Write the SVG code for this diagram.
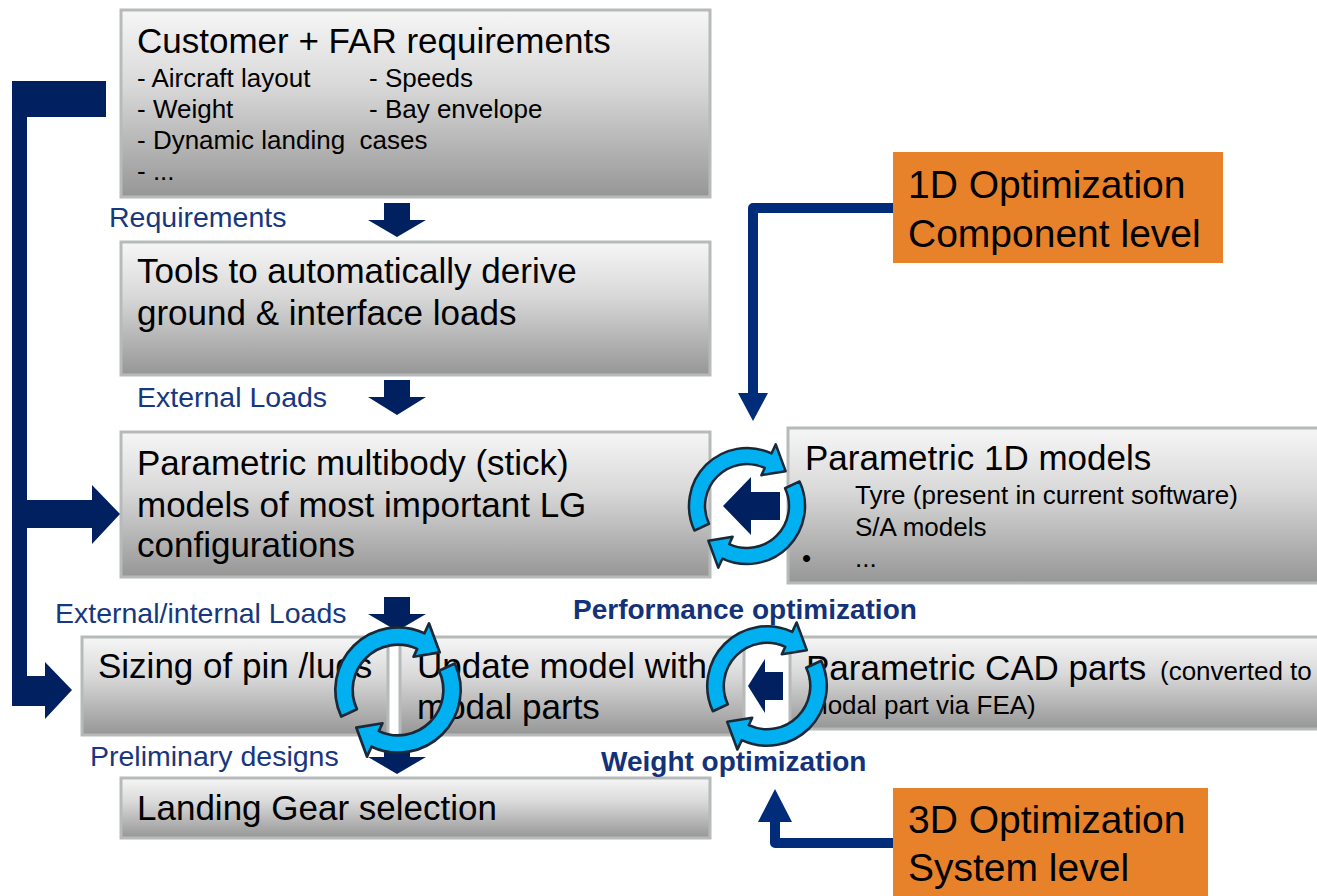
<svg xmlns="http://www.w3.org/2000/svg" xmlns:xlink="http://www.w3.org/1999/xlink" width="1317" height="896" viewBox="0 0 1317 896">
<style>
.box{fill:url(#gray);stroke:#b7baba;stroke-width:3}
.org{fill:#e8822a}
.t{font-family:"Liberation Sans",Arial,sans-serif;fill:#000;white-space:pre}
.big{font-size:35px}
.sm{font-size:26px}
.ob{font-size:39px}
.lbl{font-family:"Liberation Sans",Arial,sans-serif;font-size:28.5px;fill:#17377e}
.bld{font-family:"Liberation Sans",Arial,sans-serif;font-size:28px;font-weight:bold;fill:#13327a}
.navy{fill:#002060}
.line{fill:none;stroke:#012c7a;stroke-width:10;stroke-linejoin:round}
.head{fill:#012c7a}
.cyc{fill:#00b0f0;stroke:#1a2838;stroke-width:2.5;stroke-linejoin:round}
</style>
<defs>
<linearGradient id="gray" x1="0" y1="0" x2="0" y2="1">
<stop offset="0" stop-color="#f6f6f6"/>
<stop offset="0.4" stop-color="#d9d9d9"/>
<stop offset="1" stop-color="#969696"/>
</linearGradient>
<g id="cycle">
<path class="cyc" d="M-52.57,24.51 A58,58 0 0 1 24.51,-52.57 L28.74,-61.63 L38.64,-34.79 L14.37,-30.81 L17.75,-38.06 A42,42 0 0 0 -38.06,17.75 Z"/>
<path class="cyc" d="M52.57,-24.51 A58,58 0 0 1 -24.51,52.57 L-28.74,61.63 L-38.64,34.79 L-14.37,30.81 L-17.75,38.06 A42,42 0 0 0 38.06,-17.75 Z"/>
</g>
</defs>
<rect width="1317" height="896" fill="#fff"/>

<g id="customer">
<rect class="box" x="121" y="10" width="589" height="187"/>
<text class="t big" x="137" y="53">Customer + FAR requirements</text>
<text class="t sm" x="137" y="87">- Aircraft layout</text>
<text class="t sm" x="369" y="87">- Speeds</text>
<text class="t sm" x="137" y="118">- Weight</text>
<text class="t sm" x="369" y="118">- Bay envelope</text>
<text class="t sm" x="137" y="149">- Dynamic landing  cases</text>
<text class="t sm" x="137" y="180">- ...</text>
</g>

<g id="tools">
<rect class="box" x="121" y="242" width="589" height="133"/>
<text class="t big" x="137" y="283">Tools to automatically derive</text>
<text class="t big" x="137" y="325">ground &amp; interface loads</text>
</g>

<g id="multibody">
<rect class="box" x="121" y="432" width="589" height="145"/>
<text class="t big" x="137" y="475">Parametric multibody (stick)</text>
<text class="t big" x="137" y="517">models of most important LG</text>
<text class="t big" x="137" y="557">configurations</text>
</g>

<g id="param1d">
<rect class="box" x="788" y="428" width="545" height="155"/>
<text class="t big" x="805" y="470">Parametric 1D models</text>
<text class="t sm" x="855" y="504">Tyre (present in current software)</text>
<text class="t sm" x="855" y="536">S/A models</text>
<text class="t sm" x="802" y="567">•</text>
<text class="t sm" x="855" y="567">...</text>
</g>

<g id="sizing">
<rect class="box" x="82" y="637" width="306" height="98"/>
<text class="t big" x="98" y="678">Sizing of pin /lugs</text>
</g>

<g id="update">
<rect class="box" x="400" y="637" width="344" height="98"/>
<text class="t big" x="417" y="678">Update model with</text>
<text class="t big" x="417" y="719">modal parts</text>
</g>

<g id="cad">
<rect class="box" x="790" y="637" width="545" height="92"/>
<text class="t big" x="806" y="680">Parametric CAD parts</text>
<text class="t sm" x="1160" y="680">(converted to</text>
<text class="t sm" x="806" y="714">modal part via FEA)</text>
</g>

<g id="selection">
<rect class="box" x="121" y="778" width="589" height="60"/>
<text class="t big" x="137" y="820">Landing Gear selection</text>
</g>

<g id="opt1d">
<rect class="org" x="893" y="152" width="330" height="111"/>
<text class="t ob" x="908" y="198">1D Optimization</text>
<text class="t ob" x="908" y="247">Component level</text>
</g>

<g id="opt3d">
<rect class="org" x="893" y="788" width="315" height="108"/>
<text class="t ob" x="908" y="833">3D Optimization</text>
<text class="t ob" x="908" y="881">System level</text>
</g>

<g id="labels">
<text class="lbl" x="109" y="227">Requirements</text>
<text class="lbl" x="137" y="407">External Loads</text>
<text class="lbl" x="55" y="623">External/internal Loads</text>
<text class="lbl" x="90" y="766">Preliminary designs</text>
<text class="bld" x="573" y="619">Performance optimization</text>
<text class="bld" x="601" y="771">Weight optimization</text>
</g>

<g id="connectors">
<polygon class="navy" points="106,81 12,81 12,706 45,706 45,719 72,690 45,662 45,676 27,676 27,528 92,528 92,544 120,514 92,485 92,500 27,500 27,117 106,117"/>
<polygon class="navy" points="384,203 410,203 410,220 426,220 397,237 368,220 384,220"/>
<polygon class="navy" points="384,380 410,380 410,397 426,397 397,415 368,397 384,397"/>
<polygon class="navy" points="384,597 410,597 410,614 426,614 397,631 368,614 384,614"/>
<polygon class="navy" points="384,742 410,742 410,757 426,757 397,774 368,757 384,757"/>
<path class="line" d="M893,208 H753 V395"/>
<polygon class="head" points="738,393 768,393 753,421"/>
<path class="line" d="M893,843 H775 V820"/>
<polygon class="head" points="758,822 792,822 775,789"/>
<polygon class="navy" points="723,506 751,477 751,492 780,492 780,520 751,520 751,535"/>
<polygon class="navy" points="748,686 765,659 765,672 783,672 783,700 765,700 765,713"/>
<use xlink:href="#cycle" href="#cycle" transform="translate(747,506)"/>
<use xlink:href="#cycle" href="#cycle" transform="translate(398,690) scale(1.08)"/>
<use xlink:href="#cycle" href="#cycle" transform="translate(767,686) scale(1.03)"/>
</g>
</svg>
